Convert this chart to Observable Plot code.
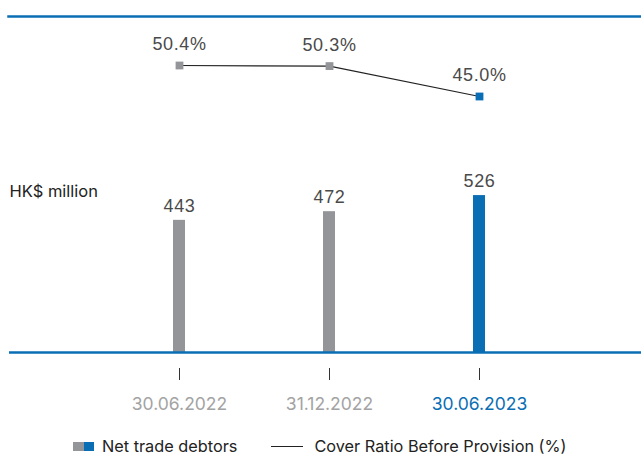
<!DOCTYPE html>
<html>
<head>
<meta charset="utf-8">
<script src="https://cdn.jsdelivr.net/npm/d3@7"></script>
<script src="https://cdn.jsdelivr.net/npm/@observablehq/plot@0.6"></script>
<style>
  html, body { margin: 0; padding: 0; background: #fff; }
  #wrap { position: relative; width: 641px; height: 455px; overflow: hidden; }
  #wrap svg { position: absolute; left: 0; }
  #legend { position: absolute; left: 73px; top: 436px; display: flex; align-items: center;
    font-family: Inter, "Noto Sans", sans-serif; font-weight: 400; font-size: 16.3px; color: #222; white-space: nowrap; }
  .sw { display: inline-block; width: 10.5px; height: 9px; }
  .ln { display: inline-block; width: 32px; height: 0; border-top: 1.2px solid #222; margin: 0 11px 0 34px; }
  .vals text { letter-spacing: 0.6px; }
</style>
</head>
<body>
<div id="wrap"></div>
<script>
const dates = ["30.06.2022", "31.12.2022", "30.06.2023"];
const debtors = [443, 472, 526];
const coverRatio = [50.4, 50.3, 45.0];
const coverLabels = ["50.4%", "50.3%", "45.0%"];
const highlight = "30.06.2023";

const BLUE = "#0a6eb4", GRAY = "#939598";
const colorOf = d => d === highlight ? BLUE : GRAY;
const labelColorOf = d => d === highlight ? BLUE : "#a3a3a3";

const rows = dates.map((d, i) => ({date: d, debtors: debtors[i], ratio: coverRatio[i], label: coverLabels[i]}));

const xScale = {domain: dates, type: "band", range: [104, 554], paddingInner: 0.92, paddingOuter: 0.46, axis: null};

// Top: cover ratio line
const topChart = Plot.plot({
  width: 641, height: 140,
  marginTop: 16, marginLeft: 8, marginRight: 0, marginBottom: 0,
  x: xScale,
  y: {domain: [40, 60], range: [124.7, 9.9], axis: null},
  marks: [
    Plot.frame({anchor: "top", stroke: BLUE, strokeWidth: 2.5}),
    Plot.line(rows, {x: "date", y: "ratio", stroke: "#222", strokeWidth: 1.2}),
    Plot.dot(rows, {x: "date", y: "ratio", symbol: "square", r: 4.4, fill: d => colorOf(d.date), stroke: null}),
    Plot.text(rows, {x: "date", y: "ratio", text: "label", dy: -21, fontSize: 18, fill: "#4a4a4a",
      fontFamily: "Liberation Sans, Arial, sans-serif", className: "vals"})
  ],
  style: {overflow: "visible"}
});
topChart.style.top = "0px";

// Bottom: net trade debtors bars
const bottomChart = Plot.plot({
  width: 641, height: 290,
  marginTop: 33, marginBottom: 78, marginLeft: 9, marginRight: 0,
  x: xScale,
  y: {domain: [0, 600], axis: null},
  marks: [
    Plot.barY(rows, {x: "date", y: "debtors", fill: d => colorOf(d.date)}),
    Plot.ruleY([0], {stroke: BLUE, strokeWidth: 2.5}),
    Plot.text(rows, {x: "date", y: "debtors", text: d => String(d.debtors), dy: -14, fontSize: 18, fill: "#4a4a4a",
      fontFamily: "Liberation Sans, Arial, sans-serif", className: "vals"}),
    Plot.text(["HK$ million"], {frameAnchor: "top-left", dy: 18, textAnchor: "start", lineAnchor: "middle",
      fontSize: 16.5, fill: "#222", fontFamily: "Inter, sans-serif"}),
    Plot.axisX({tickSize: 12, dy: 16, tickFormat: () => "", stroke: "#333", label: null}),
    Plot.text(dates, {x: d => d, frameAnchor: "bottom", dy: 52, lineAnchor: "middle", fontSize: 17.5,
      fill: d => labelColorOf(d), fontFamily: "Inter, sans-serif"})
  ],
  style: {overflow: "visible"}
});
bottomChart.style.top = "140px";

const wrap = document.getElementById("wrap");
wrap.appendChild(topChart);
wrap.appendChild(bottomChart);

const legend = document.createElement("div");
legend.id = "legend";
legend.innerHTML = `<span class="sw" style="background:${GRAY}"></span><span class="sw" style="background:${BLUE}"></span>` +
  `<span style="margin-left:8px">Net trade debtors</span><span class="ln"></span><span>Cover Ratio Before Provision (%)</span>`;
wrap.appendChild(legend);
</script>
</body>
</html>
